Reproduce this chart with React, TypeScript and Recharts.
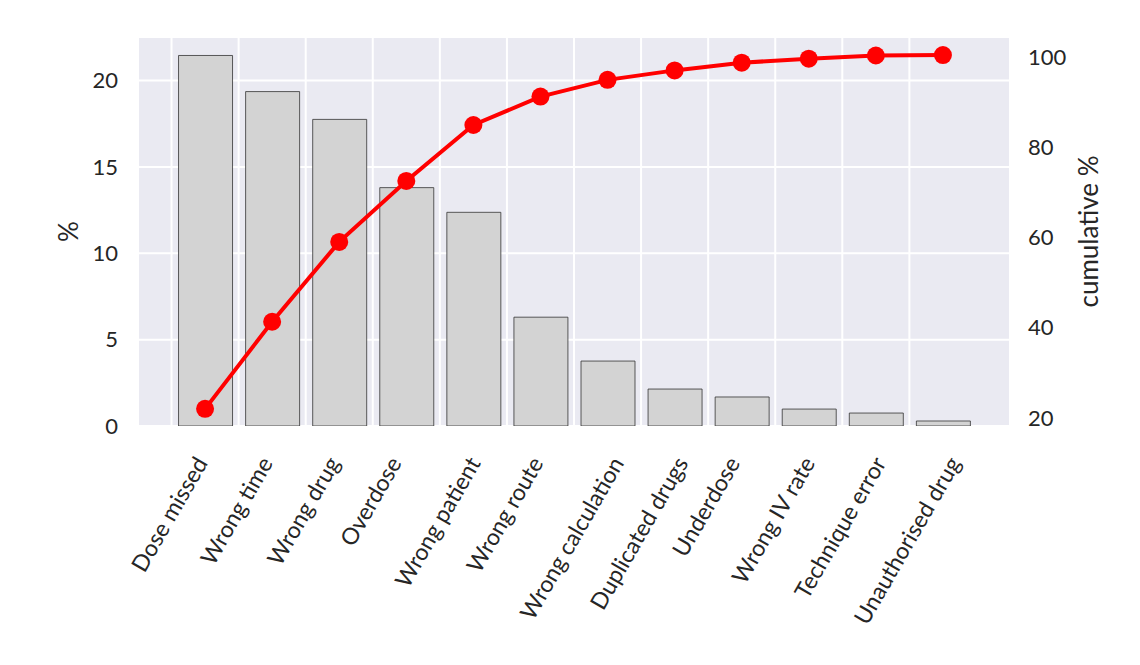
import React from 'react';
import { ComposedChart, Bar, Line, XAxis, YAxis, CartesianGrid } from 'recharts';

const categories = [
  'Dose missed',
  'Wrong time',
  'Wrong drug',
  'Overdose',
  'Wrong patient',
  'Wrong route',
  'Wrong calculation',
  'Duplicated drugs',
  'Underdose',
  'Wrong IV rate',
  'Technique error',
  'Unauthorised drug',
];
const percent = [21.45, 19.36, 17.75, 13.8, 12.37, 6.3, 3.76, 2.14, 1.68, 0.98, 0.75, 0.29];
const cumulative = [22.0, 41.3, 59.0, 72.5, 84.9, 91.2, 94.9, 97.0, 98.7, 99.6, 100.3, 100.4];
const leftTicks = [0, 5, 10, 15, 20];
const rightTicks = [20, 40, 60, 80, 100];
// the x ticks (and vertical grid) sit half a category left of each bar
const xTicks = [-0.5, 0.5, 1.5, 2.5, 3.5, 4.5, 5.5, 6.5, 7.5, 8.5, 9.5, 10.5];

const data = categories.map((name, i) => ({
  idx: i,
  name,
  pct: percent[i],
  cum: cumulative[i],
}));

const FONT = 'Lato, "Open Sans", sans-serif';
const TEXT = '#262626';
const LABEL_SIZE = 23;
const ANGLE = 60;

let ctx: CanvasRenderingContext2D | null = null;
const textWidth = (s: string) => {
  if (!ctx) ctx = document.createElement('canvas').getContext('2d');
  if (!ctx) return s.length * LABEL_SIZE * 0.5;
  ctx.font = `${LABEL_SIZE}px Lato`;
  return ctx.measureText(s).width;
};

// label centred (by its rotated box) on the tick, top edge level
const CategoryTick = (props: any) => {
  const { x, y, payload } = props;
  const label = categories[Math.round(payload.value + 0.5)];
  if (!label) return null;
  const rad = (ANGLE * Math.PI) / 180;
  const w = textWidth(label);
  const tx = x + (w * Math.cos(rad)) / 2 + 5;
  const ty = y + 35;
  return (
    <text
      x={tx}
      y={ty}
      transform={`rotate(-${ANGLE}, ${tx}, ${ty})`}
      textAnchor="end"
      fontSize={LABEL_SIZE}
      fontFamily={FONT}
      fill={TEXT}
    >
      {label}
    </text>
  );
};

const axisTitle = (text: string, offsetX: number) => (props: any) => {
  const vb = props.viewBox;
  const cx = vb.x + offsetX;
  const cy = vb.y + vb.height / 2;
  return (
    <text
      x={cx}
      y={cy}
      transform={`rotate(-90, ${cx}, ${cy})`}
      textAnchor="middle"
      dominantBaseline="central"
      fontSize={26}
      fontFamily={FONT}
      fill={TEXT}
    >
      {text}
    </text>
  );
};

const App = () => {
  return (
    <div style={{ position: 'absolute', left: 0, top: 0, width: 1140, height: 665, background: '#fff' }}>
      <ComposedChart width={1140} height={665} data={data} margin={{ top: 37, right: 0, bottom: 0, left: 0 }}>
        <CartesianGrid xAxisId="cat" yAxisId="left" fill="#EAEAF2" stroke="#ffffff" strokeWidth={2} />
        <XAxis
          xAxisId="cat"
          dataKey="idx"
          type="number"
          domain={[-1, 12]}
          allowDataOverflow
          ticks={xTicks}
          interval={0}
          tick={<CategoryTick />}
          tickLine={false}
          axisLine={false}
          tickSize={0}
          height={239}
        />
        <YAxis
          yAxisId="left"
          orientation="left"
          width={138}
          domain={[0, 22.52]}
          allowDataOverflow
          ticks={leftTicks}
          tickLine={false}
          axisLine={false}
          tickSize={0}
          tickMargin={20}
          tick={{ fill: TEXT, fontSize: 22, fontFamily: FONT }}
          label={axisTitle('%', 68)}
        />
        <YAxis
          yAxisId="right"
          orientation="right"
          width={130}
          domain={[18.2, 104.4]}
          allowDataOverflow
          ticks={rightTicks}
          tickLine={false}
          axisLine={false}
          tickSize={0}
          tickMargin={18}
          tick={{ fill: TEXT, fontSize: 22, fontFamily: FONT }}
          label={axisTitle('cumulative %', 78)}
        />
        <Bar
          xAxisId="cat"
          yAxisId="left"
          dataKey="pct"
          barSize={54}
          fill="#D3D3D3"
          stroke="#333333"
          strokeWidth={0.8}
          isAnimationActive={false}
        />
        <Line
          xAxisId="cat"
          yAxisId="right"
          dataKey="cum"
          type="linear"
          stroke="#FF0000"
          strokeWidth={4}
          dot={{ r: 9, fill: '#FF0000', stroke: '#FF0000', strokeWidth: 0 }}
          activeDot={false}
          isAnimationActive={false}
        />
      </ComposedChart>
    </div>
  );
};

export default App;
